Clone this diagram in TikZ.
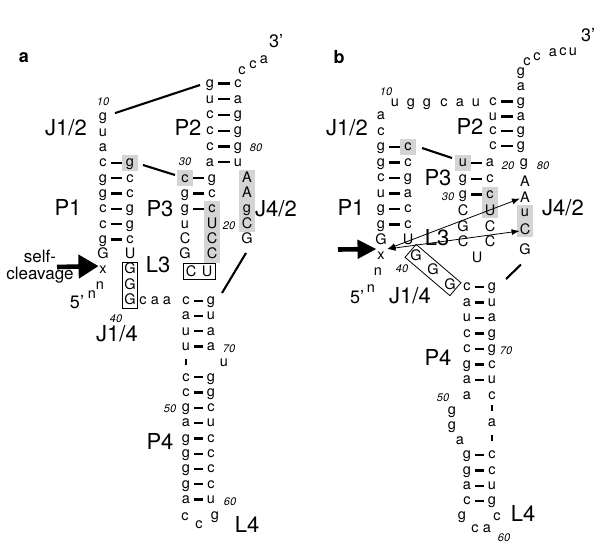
\documentclass[tikz,border=0pt]{standalone}
\usepackage{fontspec}
\setmainfont{TeX Gyre Heros}
\usetikzlibrary{arrows.meta,calc}
\newcommand\bpair[6]{%
  \node[nt] (#1l) at (#3,#2) {#5};
  \node[nt] (#1r) at (#4,#2) {#6};
  \draw[pbar] (#1l) -- (#1r);}
\newcommand\nuc[4]{\node[nt] (#1) at (#2,#3) {#4};}
\newcommand\mknum[4]{\node[numlab] (#1) at (#2,#3) {#4};}
\newcommand\mklab[4]{\node[rlab] (#1) at (#2,#3) {#4};}
\tikzset{
 nt/.style={inner sep=0pt, minimum width=7.5pt, text height=7.6pt, text depth=0pt, font=\fontsize{14.5}{15}\selectfont},
 numlab/.style={inner sep=0pt, text height=8pt, text depth=0pt, font=\fontsize{11}{12}\selectfont\itshape},
 rlab/.style={inner sep=0pt, text height=15.6pt, text depth=0pt, font=\fontsize{22}{23}\selectfont},
 prime/.style={inner sep=0pt, font=\fontsize{18}{19}\selectfont},
 sclab/.style={inner sep=0pt, anchor=base, font=\fontsize{17}{18}\selectfont},
 panel/.style={inner sep=0pt, font=\fontsize{18}{19}\selectfont\bfseries},
 pbar/.style={line width=2.3pt, shorten <=4pt, shorten >=4pt},
 link/.style={line width=2.1pt},
 tick/.style={line width=2.2pt},
 gbox/.style={fill=black!17},
 loopbox/.style={draw, line width=0.8pt, inner sep=0pt},
 cleave/.style={line width=4.6pt, -{Triangle[length=20pt,width=23pt]}},
 cleaveb/.style={line width=4.6pt, -{Triangle[length=19pt,width=18pt]}},
 contact/.style={line width=0.8pt, {Latex[length=8pt,width=6pt]}-{Latex[length=8pt,width=6pt]}},
}
\begin{document}
\begin{tikzpicture}[x=1pt,y=-1pt]
\fill[white] (0,0) rectangle (600,547);
\useasboundingbox (0,0) rectangle (600,547);
% ================= panel a =================
\node[panel] (pa) at (24,58) {a};
\fill[gbox] (122,155) rectangle (138,171);
\fill[gbox] (177,170.3) rectangle (193,186.3);
\fill[gbox] (204,201) rectangle (220,263);
\fill[gbox] (239,170) rectangle (255,232);
% J1/2 and P1
\mknum{a10}{103}{101.8}{10}
\nuc{aj1}{103}{117.1}{g}
\nuc{aj2}{103}{132.4}{u}
\nuc{aj3}{103}{147.7}{a}
\bpair{ap1}{163}{103}{130}{c}{g}
\bpair{ap2}{178.3}{103}{130}{g}{c}
\bpair{ap3}{193.6}{103}{130}{g}{c}
\bpair{ap4}{208.9}{103}{130}{c}{g}
\bpair{ap5}{224.2}{103}{130}{c}{g}
\bpair{ap6}{239.5}{103}{130}{g}{c}
\nuc{aG}{103}{254.8}{G}
\nuc{aU}{130}{254.8}{U}
\nuc{ax}{103}{270.1}{x}
\nuc{an}{100}{286}{n}
\node[prime] (a5) at (77,302) {5'};
\nuc{ans}{92}{295}{n}
% J1/4
\nuc{aG1}{130}{270.1}{G}
\nuc{aG2}{130}{285.4}{G}
\nuc{aG3}{130}{300.7}{G}
\node[loopbox, minimum width=15pt, minimum height=46.5pt] (aJ14box) at (130,285.3) {};
\mknum{a40}{116}{318}{40}
\nuc{ac1}{143}{300.7}{c}
\nuc{aa1}{155}{300.7}{a}
\nuc{aa2}{167}{300.7}{a}
% P4
\bpair{a4p1}{300.7}{186}{211}{c}{g}
\bpair{a4p2}{316}{186}{211}{a}{u}
\bpair{a4p3}{331.3}{186}{211}{u}{a}
\bpair{a4p4}{346.6}{186}{211}{u}{a}
\mknum{a70}{229}{348}{70}
\coordinate (atk1) at (186,358.8);
\coordinate (atk2) at (186,365);
\draw[tick] (atk1) -- (atk2);
\nuc{a4u}{224}{362.5}{u}
\bpair{a4p5}{377.2}{186}{211}{c}{g}
\bpair{a4p6}{392.5}{186}{211}{c}{g}
\bpair{a4p7}{407.8}{186}{211}{g}{c}
\mknum{a50}{170}{408}{50}
\bpair{a4p8}{423.1}{186}{211}{a}{u}
\bpair{a4p9}{438.4}{186}{211}{g}{c}
\bpair{a4p10}{453.7}{186}{211}{g}{c}
\bpair{a4p11}{469}{186}{211}{g}{c}
\bpair{a4p12}{484.3}{186}{211}{g}{c}
\bpair{a4p13}{499.6}{186}{211}{a}{u}
\mknum{a60}{230}{501}{60}
\nuc{al1}{185}{517}{c}
\nuc{al2}{199}{525}{c}
\nuc{al3}{215}{516}{g}
% P3
\bpair{a3p1}{178.3}{185}{212}{c}{g}
\bpair{a3p2}{193.6}{185}{212}{g}{c}
\bpair{a3p3}{208.9}{185}{212}{g}{c}
\mknum{a30}{185}{161}{30}
\nuc{a3u}{185}{224.2}{u}
\nuc{a3U}{212}{224.2}{U}
\mknum{a20}{229}{225}{20}
\nuc{a3C1}{185}{239.5}{C}
\nuc{a3C2}{212}{239.5}{C}
\nuc{a3G}{185}{254.8}{G}
\nuc{a3C3}{212}{254.8}{C}
\node[loopbox, minimum width=32pt, minimum height=15.5pt] (aL3box) at (199,271.3) {};
\nuc{aL3C}{191}{272.6}{C}
\nuc{aL3U}{207}{272.6}{U}
% J4/2
\nuc{aJ1}{247}{178.3}{A}
\nuc{aJ2}{247}{193.6}{A}
\nuc{aJ3}{247}{208.9}{g}
\nuc{aJ4}{247}{224.2}{C}
\nuc{aJ5}{247}{239.5}{G}
% P2
\bpair{a2p1}{83.5}{210}{238}{g}{c}
\bpair{a2p2}{99.2}{210}{238}{u}{a}
\bpair{a2p3}{115}{210}{238}{c}{g}
\bpair{a2p4}{130.7}{210}{238}{c}{g}
\bpair{a2p5}{146.5}{210}{238}{c}{g}
\bpair{a2p6}{162.2}{210}{238}{a}{u}
\mknum{a80}{256}{147}{80}
\nuc{at1}{242}{70.5}{c}
\nuc{at2}{253}{65}{c}
\nuc{at3}{264}{59.5}{a}
\node[prime] (a3end) at (276,41) {3'};
% labels
\mklab{aJ12}{66}{128}{J1/2}
\mklab{aP2}{188}{128}{P2}
\mklab{aP1}{68}{208}{P1}
\mklab{aP3}{160}{209}{P3}
\mklab{aJ42}{276}{209}{J4/2}
\mklab{aL3}{158}{265}{L3}
\mklab{aJ14}{117}{334}{J1/4}
\mklab{aP4}{160}{442}{P4}
\mklab{aL4}{247}{525}{L4}
\node[sclab] (asc1) at (40,262) {self-};
\node[sclab] (asc2) at (40,279.5) {cleavage};
% connectors
\coordinate (acs) at (57,267);
\draw[cleave] (acs) -- ($(ax.north west)+(-0.5,0)$);
\draw[link] ($(aj1)+(12,-4)$) -- ($(a2p1l)+(-10,1.5)$);
\draw[link] ($(ap1r)+(13,2)$) -- ($(a3p1l)+(-10,-3.3)$);
\draw[link] ($(aJ5)+(-1,13.5)$) -- ($(a4p1r)+(11,-7.7)$);
% ================= panel b =================
\node[panel] (pb) at (339,57) {b};
\fill[gbox] (400,139) rectangle (416,155);
\fill[gbox] (455,155) rectangle (471,171);
\fill[gbox] (482,186.5) rectangle (498,218);
\fill[gbox] (517,205) rectangle (533,237);
\mknum{b10}{386}{91}{10}
\nuc{bt1}{395}{102.5}{u}
\nuc{bt2}{411}{102.5}{g}
\nuc{bt3}{427}{102.5}{g}
\nuc{bt4}{444}{102.5}{c}
\nuc{bt5}{460}{102.5}{a}
\nuc{bt6}{476}{102.5}{u}
\nuc{bj1}{381}{116}{a}
\nuc{bj2}{381}{131.5}{c}
\bpair{bp1}{147}{381}{408}{g}{c}
\bpair{bp2}{162.5}{381}{408}{g}{c}
\bpair{bp3}{178}{381}{408}{c}{g}
\bpair{bp4}{193.5}{381}{408}{u}{a}
\bpair{bp5}{209}{381}{408}{g}{c}
\bpair{bp6}{224.5}{381}{408}{g}{c}
\nuc{bG}{381}{240.5}{G}
\nuc{bU}{408}{240.5}{U}
\nuc{bx}{381}{256}{x}
\nuc{bn}{378}{272}{n}
\nuc{bns}{371}{289}{n}
\node[prime] (b5) at (357,297) {5'};
\mknum{b40}{402}{268}{40}
\nuc{bG1}{416}{256.3}{G}
\nuc{bG2}{433}{270.3}{G}
\nuc{bG3}{450}{285.3}{G}
\node[loopbox, rotate=-40.5, minimum width=59pt, minimum height=17pt] (bJ14box) at (433,270) {};
% P4
\bpair{b4p1}{287}{467}{492}{c}{g}
\bpair{b4p2}{302.5}{467}{492}{a}{u}
\bpair{b4p3}{318}{467}{492}{u}{a}
\bpair{b4p4}{333.5}{467}{492}{c}{g}
\bpair{b4p5}{349}{467}{492}{c}{g}
\mknum{b70}{506}{350}{70}
\bpair{b4p6}{364.5}{467}{492}{g}{c}
\bpair{b4p7}{380}{467}{492}{a}{u}
\nuc{b4a}{467}{395.5}{a}
\nuc{b4c}{492}{395.5}{c}
\mknum{b50}{443}{397}{50}
\nuc{bi1}{452}{411}{g}
\nuc{bi2}{452}{426}{g}
\nuc{bi3}{460}{441}{a}
\coordinate (btk1) at (492,405);
\coordinate (btk2) at (492,411);
\draw[tick] (btk1) -- (btk2);
\nuc{bi4}{492}{423}{a}
\coordinate (btk3) at (492,435);
\coordinate (btk4) at (492,441);
\draw[tick] (btk3) -- (btk4);
\bpair{b4p8}{455}{467}{492}{g}{c}
\bpair{b4p9}{470.5}{467}{492}{g}{c}
\bpair{b4p10}{486}{467}{492}{a}{u}
\bpair{b4p11}{501}{467}{492}{c}{g}
\nuc{bl1}{462}{516}{g}
\nuc{bl2}{475}{529}{c}
\nuc{bl3}{487}{529}{a}
\nuc{bl4}{497}{517}{c}
\mknum{b60}{504}{537}{60}
% P3
\bpair{b3p1}{163}{463}{490}{u}{a}
\mknum{b20}{508}{165}{20}
\nuc{bJ0}{524}{163}{g}
\mknum{b80}{543}{165}{80}
\bpair{b3p2}{179}{463}{490}{g}{c}
\bpair{b3p3}{194.5}{463}{490}{g}{c}
\mknum{b30}{448}{196}{30}
\nuc{b3C1}{463}{212}{C}
\nuc{b3U1}{490}{212}{U}
\nuc{b3G}{463}{227.5}{G}
\nuc{b3C2}{490}{227.5}{C}
\nuc{b3C3}{463}{243}{C}
\nuc{b3C4}{490}{243}{C}
\nuc{b3U2}{477}{259}{U}
% J4/2
\nuc{bJ1}{525}{183}{A}
\nuc{bJ2}{525}{198.5}{A}
\nuc{bJ3}{525}{212.5}{u}
\nuc{bJ4}{525}{231}{C}
\nuc{bJ5}{525}{250.5}{G}
% P2
\bpair{b2p1}{101.5}{493}{521}{c}{g}
\bpair{b2p2}{116.5}{493}{521}{u}{a}
\bpair{b2p3}{131}{493}{521}{c}{g}
\bpair{b2p4}{146}{493}{521}{c}{g}
\nuc{bs1}{521}{87}{a}
\nuc{bs2}{521}{72}{g}
\nuc{bs3}{527}{62}{c}
\nuc{bs4}{537}{57}{c}
\nuc{bs5}{553}{53}{a}
\nuc{bs6}{563}{52}{c}
\nuc{bs7}{573}{52}{u}
\node[prime] (b3end) at (588,35) {3'};
% labels
\mklab{bJ12}{347}{128}{J1/2}
\mklab{bP2}{470}{127}{P2}
\mklab{bP1}{351}{208}{P1}
\mklab{bP3}{438}{178}{P3}
\mklab{bL3}{437}{238}{L3}
\mklab{bJ42}{563}{208}{J4/2}
\mklab{bJ14}{410}{296}{J1/4}
\mklab{bP4}{438}{358}{P4}
\mklab{bL4}{523}{514}{L4}
% connectors
\coordinate (bcs) at (338,249.5);
\draw[cleaveb] (bcs) -- ($(bx.north west)+(-0.5,-3)$);
\draw[link] ($(bp1r)+(14,1)$) -- ($(b3p1l)+(-11,-5)$);
\draw[link] ($(bJ5)+(-4,14)$) -- ($(b4p1r)+(14,-8)$);
\coordinate (bct) at ($(bx.north east)+(2.5,-3)$);
\draw[contact] (bct) -- (bJ2.west);
\draw[contact] (bct) -- (bJ4.west);
\end{tikzpicture}
\end{document}
